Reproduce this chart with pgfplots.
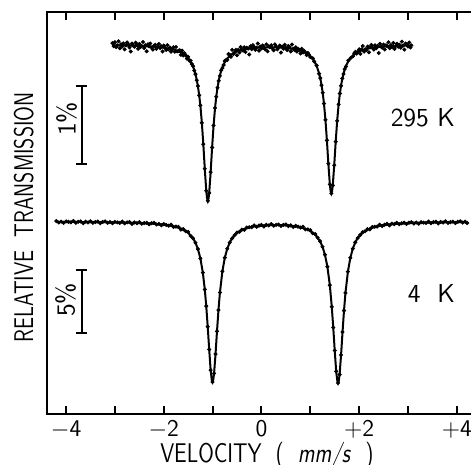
\documentclass[border=0pt]{standalone}
\usepackage{pgfplots}
\pgfplotsset{compat=1.18}
\usepackage{graphicx}
\newcommand\lab[2][0.8]{\fontsize{13.5}{16}\selectfont\sffamily\scalebox{#1}[1]{#2}}
\begin{document}
\begin{tikzpicture}
\begin{axis}[
  at={(0,0)}, anchor=south west,
  scale only axis, width=211.75pt, height=200.75pt,
  xmin=-4.38, xmax=4.29, ymin=0, ymax=401.5,
  axis line style={draw=none},
  xtick={-4,-3,...,4},
  xticklabels={$-$4,,$-$2,,0,,+2,,+4},
  ytick=\empty,
  major tick length=4pt,
  every tick/.style={black, line width=1pt},
  xtick pos=both, xticklabel pos=lower,
  xticklabel style={font=\fontsize{12}{14}\selectfont\sffamily, inner sep=0pt, yshift=-3pt, anchor=north},
  clip=false,
]
\draw[line width=1pt] (rel axis cs:1,1) -- (rel axis cs:0,1) -- (rel axis cs:0,0) -- (rel axis cs:1,0);

% 295 K fit
\addplot[black, line width=1pt] coordinates {
(-3.05,368.8) (-2.6,368.3) (-2.1,367.0) (-1.8,364.7) (-1.6,360.6) (-1.5,356.1) (-1.4,347.4) (-1.375,343.9)
(-1.35,339.6) (-1.325,334.3) (-1.3,327.5) (-1.275,319.0) (-1.25,308.1) (-1.22,291.2) (-1.19,269.8) (-1.16,245.2)
(-1.13,223.2) (-1.113,215.5) (-1.098,213.1) (-1.083,215.5) (-1.07,220.95) (-1.04,241.9) (-1.01,266.5) (-0.98,288.5)
(-0.95,306.0) (-0.925,317.3) (-0.9,326.2) (-0.875,333.2) (-0.85,338.7) (-0.825,343.1) (-0.8,346.6) (-0.75,352.0)
(-0.7,355.6) (-0.6,360.1) (-0.5,362.7) (-0.4,364.2) (-0.3,365.2) (-0.1,366.3) (0.2,366.7) (0.5,366.1)
(0.65,365.2) (0.8,363.5) (0.9,361.5) (0.95,360.0) (1.0,358.0) (1.05,355.2) (1.08,353.0) (1.13,348.1)
(1.18,340.7) (1.205,335.5) (1.23,329.1) (1.255,320.9) (1.28,310.4) (1.31,294.2) (1.34,273.7) (1.37,250.3)
(1.40,229.6) (1.416,222.8) (1.431,220.6) (1.446,222.8) (1.46,228.6) (1.49,248.8) (1.52,272.3) (1.55,293.1)
(1.58,309.6) (1.605,320.1) (1.63,328.6) (1.655,335.1) (1.68,340.4) (1.705,344.5) (1.73,348.0) (1.78,353.0)
(1.83,356.5) (1.93,360.9) (2.0,362.7) (2.13,364.9) (2.25,366.0) (2.43,367.2) (2.6,367.7) (2.75,368.1)
(2.9,368.3) (3.07,368.55)
};
% 295 K data
\addplot[only marks, mark=*, mark size=0.8pt, black] coordinates {
(-3.050,370.8) (-3.025,367.8) (-3.000,371.8) (-2.975,366.8) (-2.950,368.7) (-2.925,372.7) (-2.900,365.7) (-2.875,369.7)
(-2.850,367.6) (-2.825,370.6) (-2.800,364.6) (-2.775,368.6) (-2.750,371.5) (-2.725,369.5) (-2.700,366.5) (-2.675,362.5)
(-2.650,370.4) (-2.625,368.4) (-2.600,367.3) (-2.575,371.3) (-2.550,369.2) (-2.525,365.2) (-2.500,370.1) (-2.475,367.1)
(-2.450,368.0) (-2.425,372.0) (-2.400,365.9) (-2.375,368.8) (-2.350,362.7) (-2.325,369.7) (-2.300,367.6) (-2.275,370.5)
(-2.250,366.4) (-2.225,364.4) (-2.200,368.3) (-2.175,369.2) (-2.150,365.1) (-2.125,367.1) (-2.100,370.0) (-2.075,365.9)
(-2.050,367.7) (-2.025,362.6) (-2.000,368.4) (-1.975,366.3) (-1.950,364.1) (-1.925,368.9) (-1.900,364.7) (-1.875,366.5)
(-1.850,362.3) (-1.825,365.0) (-1.800,366.7) (-1.775,362.4) (-1.750,367.0) (-1.725,362.6) (-1.700,363.2) (-1.675,363.7)
(-1.650,359.1) (-1.625,363.4) (-1.600,358.6) (-1.575,360.7) (-1.550,358.6) (-1.525,355.4) (-1.500,357.1) (-1.475,353.4)
(-1.450,353.3) (-1.425,350.0)
(-1.4,347.9) (-1.375,343.5) (-1.35,339.9) (-1.325,333.8) (-1.3,327.9) (-1.275,318.7) (-1.25,308.6) (-1.22,291.2)
(-1.19,269.8) (-1.16,245.2) (-1.13,223.2) (-1.098,213.1) (-1.07,220.95) (-1.04,241.9) (-1.01,266.5) (-0.98,288.5)
(-0.95,306.0) (-0.925,317.3) (-0.9,326.2) (-0.875,333.2) (-0.85,338.1) (-0.825,343.6) (-0.8,345.8)
(-0.775,349.0) (-0.750,353.0) (-0.725,353.9) (-0.700,354.1) (-0.675,359.9) (-0.650,359.2) (-0.625,357.2) (-0.600,364.1)
(-0.575,359.8) (-0.550,361.5) (-0.525,364.1) (-0.500,358.7) (-0.475,364.1) (-0.450,361.5) (-0.425,366.9) (-0.400,364.2)
(-0.375,363.5) (-0.350,366.7) (-0.325,362.0) (-0.300,366.2) (-0.275,365.4) (-0.250,359.5) (-0.225,367.7) (-0.200,364.8)
(-0.175,368.9) (-0.150,367.1) (-0.125,364.2) (-0.100,366.3) (-0.075,370.4) (-0.050,363.4) (-0.025,367.5) (0.000,365.5)
(0.025,368.5) (0.050,366.6) (0.075,364.6) (0.100,369.6) (0.125,362.7) (0.150,367.7) (0.175,366.7) (0.200,368.7)
(0.225,365.7) (0.250,363.7) (0.275,369.6) (0.300,367.6) (0.325,364.6) (0.350,366.5) (0.375,368.5) (0.400,361.4)
(0.425,367.3) (0.450,365.3) (0.475,369.2) (0.500,366.1) (0.525,364.0) (0.550,367.9) (0.575,366.7) (0.600,362.6)
(0.625,369.4) (0.650,365.2) (0.675,364.0) (0.700,366.7) (0.725,362.5) (0.750,365.2) (0.775,363.9) (0.800,360.5)
(0.825,365.1) (0.850,361.6) (0.875,363.1) (0.900,361.5) (0.925,358.8) (0.950,361.0) (0.975,359.1) (1.000,357.0)
(1.05,355.6) (1.08,352.6) (1.13,348.5) (1.18,340.3) (1.205,335.9) (1.23,328.7) (1.255,321.3) (1.28,310.4)
(1.31,294.2) (1.34,273.7) (1.37,250.3) (1.40,229.6) (1.431,220.6) (1.46,228.6) (1.49,248.8) (1.52,272.3)
(1.55,293.1) (1.58,309.6) (1.605,320.5) (1.63,328.2) (1.655,335.6) (1.68,340.0) (1.705,344.9) (1.73,347.5)
(1.78,353.5) (1.83,356.0)
(1.875,357.8) (1.900,360.8) (1.925,362.2) (1.950,360.4) (1.975,362.1) (2.000,364.7) (2.025,360.2) (2.050,364.6)
(2.075,368.0) (2.100,362.4) (2.125,364.8) (2.150,364.1) (2.175,367.4) (2.200,361.7) (2.225,366.9) (2.250,369.0)
(2.275,366.2) (2.300,364.4) (2.325,368.6) (2.350,365.8) (2.375,367.9) (2.400,361.0) (2.425,370.2) (2.450,367.3)
(2.475,366.3) (2.500,369.4) (2.525,364.5) (2.550,368.6) (2.575,367.7) (2.600,371.7) (2.625,365.8) (2.650,368.9)
(2.675,366.9) (2.700,371.0) (2.725,365.1) (2.750,368.1) (2.775,370.2) (2.800,367.2) (2.825,369.2) (2.850,366.3)
(2.875,372.3) (2.900,368.3) (2.925,364.4) (2.950,370.4) (2.975,369.4) (3.000,367.5) (3.025,371.5) (3.050,366.5)
(3.070,368.6)
};

% 4 K fit
\addplot[black, line width=1pt] coordinates {
(-4.21,192.1) (-3.7,192.0) (-3.2,191.8) (-2.7,191.3) (-2.3,190.6) (-2.0,189.4) (-1.8,187.8) (-1.65,185.6)
(-1.5,181.2) (-1.4,175.7) (-1.35,171.2) (-1.3,164.9) (-1.25,155.6) (-1.2,141.4) (-1.16,124.6) (-1.13,107.9)
(-1.1,87.35) (-1.07,64.55) (-1.04,43.9) (-1.017,34.0) (-1.002,32.06) (-0.987,34.0) (-0.97,40.55) (-0.94,59.9)
(-0.91,82.75) (-0.88,103.9) (-0.85,121.5) (-0.8,142.6) (-0.75,156.3) (-0.7,165.3) (-0.65,171.4) (-0.6,175.7)
(-0.5,181.0) (-0.35,185.1) (-0.15,187.6) (0.1,188.8) (0.3,189.0) (0.5,188.7) (0.75,187.3) (0.95,184.4)
(1.1,179.5) (1.2,172.8) (1.25,167.3) (1.3,159.3) (1.35,147.3) (1.4,128.8) (1.44,107.2) (1.47,86.5)
(1.5,63.5) (1.53,42.7) (1.553,33.1) (1.568,31.06) (1.583,33.1) (1.6,39.5) (1.63,59.0) (1.66,82.0)
(1.69,103.4) (1.72,121.1) (1.77,142.4) (1.82,156.2) (1.87,165.3) (1.92,171.6) (1.97,175.9) (2.07,181.3)
(2.22,185.6) (2.42,188.3) (2.7,190.0) (3.1,191.1) (3.6,191.7) (4.21,192.0)
};
% 4 K data
\addplot[only marks, mark=*, mark size=0.8pt, black] coordinates {
(-4.20,192.9) (-4.15,191.5) (-4.10,192.4) (-4.05,191.1) (-4.00,192.6) (-3.95,192.1) (-3.90,191.7) (-3.85,193.0)
(-3.80,191.2) (-3.75,192.2) (-3.70,192.6) (-3.65,190.8) (-3.60,192.4) (-3.55,191.6) (-3.50,192.8) (-3.45,191.2)
(-3.40,192.0) (-3.35,192.4) (-3.30,190.9) (-3.25,192.1) (-3.20,192.6) (-3.15,191.2) (-3.10,192.0) (-3.05,190.7)
(-3.00,192.1) (-2.95,191.6) (-2.90,191.1) (-2.85,192.5) (-2.80,190.6) (-2.75,191.6) (-2.70,191.9) (-2.65,190.1)
(-2.60,191.6) (-2.55,190.8) (-2.50,191.9) (-2.45,190.2) (-2.40,190.9) (-2.35,191.2) (-2.30,189.7) (-2.25,190.8)
(-2.20,191.1) (-2.15,189.5) (-2.10,190.2) (-2.05,188.7) (-2.00,189.9) (-1.95,189.1) (-1.90,188.3) (-1.85,189.3)
(-1.80,187.0) (-1.75,187.4) (-1.70,187.1) (-1.65,184.4) (-1.60,184.9) (-1.55,182.8) (-1.50,182.1) (-1.45,178.2)
(-1.4,175.7) (-1.35,171.2) (-1.3,164.9) (-1.25,155.6) (-1.2,141.4) (-1.16,124.6) (-1.13,107.9) (-1.1,87.35)
(-1.07,64.55) (-1.04,43.9) (-1.002,32.06) (-0.97,40.55) (-0.94,59.9) (-0.91,82.75) (-0.88,103.9) (-0.85,121.5)
(-0.8,142.6) (-0.75,156.3) (-0.7,165.3) (-0.65,171.4) (-0.6,175.7) (-0.55,178.75)
(-0.50,181.5) (-0.45,182.2) (-0.40,184.4) (-0.35,184.1) (-0.30,186.5) (-0.25,186.7) (-0.20,186.8) (-0.15,188.6)
(-0.10,187.2) (-0.05,188.4) (0.00,189.1) (0.05,187.5) (0.10,189.2) (0.15,188.6) (0.20,189.9) (0.25,188.3)
(0.30,189.1) (0.35,189.5) (0.40,188.0) (0.45,189.1) (0.50,189.5) (0.55,187.9) (0.60,188.6) (0.65,187.0)
(0.70,188.2) (0.75,187.3) (0.80,186.4) (0.85,187.2) (0.90,184.6) (0.95,184.6) (1.00,183.8) (1.05,180.8)
(1.10,179.9) (1.15,176.4)
(1.2,172.8) (1.25,167.3) (1.3,159.3) (1.35,147.3) (1.4,128.8) (1.44,107.2) (1.47,86.5) (1.5,63.5)
(1.53,42.7) (1.568,31.06) (1.6,39.5) (1.63,59.0) (1.66,82.0) (1.69,103.4) (1.72,121.1) (1.77,142.4)
(1.82,156.2) (1.87,165.3) (1.92,171.6) (1.97,175.9) (2.02,179.0)
(2.07,181.7) (2.12,182.8) (2.17,184.8) (2.22,184.6) (2.27,187.0) (2.32,187.2) (2.37,187.4) (2.42,189.3)
(2.47,188.0) (2.52,189.3) (2.57,190.1) (2.62,188.5) (2.67,190.3) (2.72,189.8) (2.77,191.2) (2.82,189.8)
(2.87,190.7) (2.92,191.3) (2.97,190.0) (3.02,191.3) (3.07,191.9) (3.12,190.5) (3.17,191.5) (3.22,190.3)
(3.27,191.8) (3.32,191.4) (3.37,191.0) (3.42,192.5) (3.47,190.8) (3.52,191.8) (3.57,192.3) (3.62,190.5)
(3.67,192.1) (3.72,191.5) (3.77,192.7) (3.82,191.1) (3.87,191.9) (3.92,192.4) (3.97,191.0) (4.02,192.2)
(4.07,192.7) (4.12,191.4) (4.17,192.3) (4.21,191.0)
};

% scale bars
\addplot[black, line width=1pt, mark=-, mark size=2.75pt, mark options={line width=1pt}] coordinates {(-3.68,328) (-3.68,250)};
\addplot[black, line width=1pt, mark=-, mark size=2.75pt, mark options={line width=1pt}] coordinates {(-3.68,144) (-3.68,81)};

\node[rotate=90, inner sep=0pt, font=\fontsize{13}{15}\selectfont\sffamily] at (axis cs:-3.99,295) {1\%};
\node[rotate=90, inner sep=0pt, font=\fontsize{13}{15}\selectfont\sffamily] at (axis cs:-4.01,114) {5\%};
\node[anchor=east, inner sep=0pt, font=\fontsize{13}{15}\selectfont\sffamily] at (axis cs:3.97,296.5) {295~K};
\node[anchor=east, inner sep=0pt, font=\fontsize{13}{15}\selectfont\sffamily] at (axis cs:3.97,120.5) {4~~K};

\node[rotate=90, anchor=base, inner sep=0pt] at (axis description cs:-0.0342,0.49) {\lab[0.76]{RELATIVE\ \ TRANSMISSION}};
\node[anchor=base, inner sep=0pt] at (axis description cs:0.518,-0.1196) {\lab{VELOCITY\ \ (\ \ \textit{mm/s}\ \ )}};
\end{axis}
\pgfresetboundingbox
\useasboundingbox (-23.75pt,-25.5pt) rectangle (211.75pt,207pt);
\end{tikzpicture}
\end{document}
